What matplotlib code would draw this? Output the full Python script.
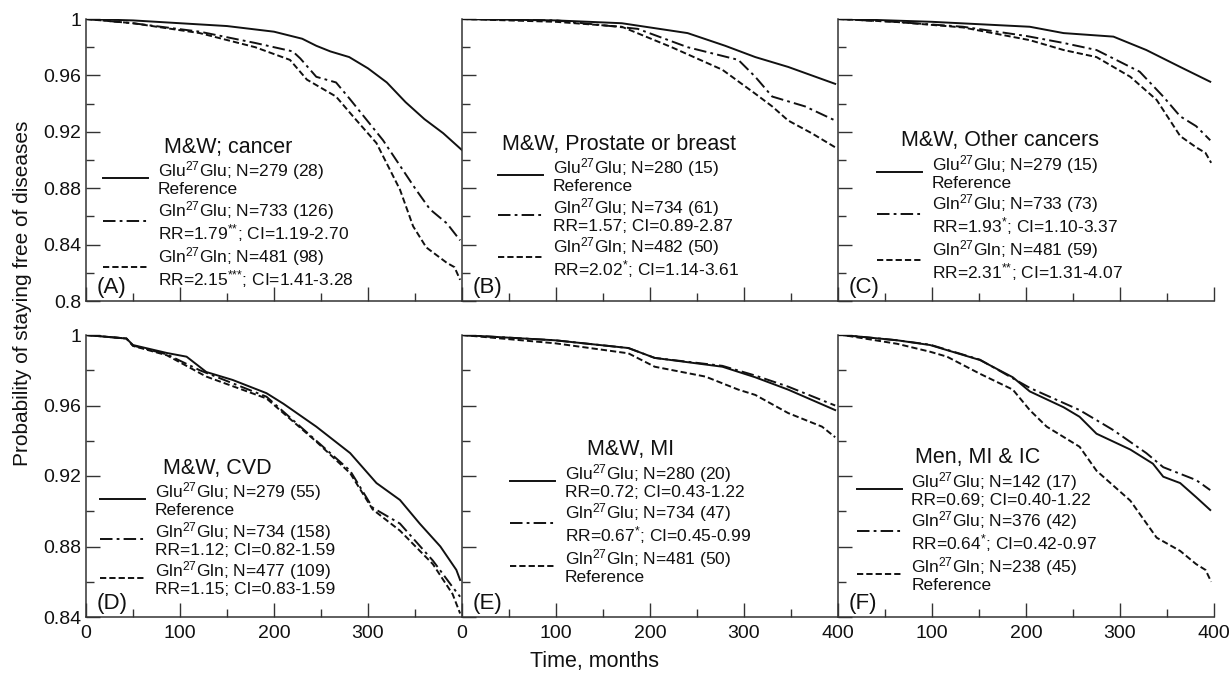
import matplotlib
matplotlib.use("Agg")
import matplotlib.pyplot as plt

plt.rcParams['font.family'] = ['Liberation Sans', 'DejaVu Sans']
plt.rcParams['mathtext.fontset'] = 'custom'
plt.rcParams['mathtext.rm'] = 'Liberation Sans'
plt.rcParams['mathtext.it'] = 'Liberation Sans'
plt.rcParams['mathtext.bf'] = 'Liberation Sans'
plt.rcParams['lines.scale_dashes'] = False

# ---- data (months, survival probability) ----
# panel A: M&W; cancer
A_glu_t = [0, 50, 100, 150, 200, 230, 245, 260, 280, 300, 320, 340, 360, 380, 400]
A_glu_s = [1.0, 0.999, 0.997, 0.995, 0.991, 0.986, 0.981, 0.977, 0.973, 0.965, 0.955, 0.941, 0.929, 0.919, 0.907]
A_gg_t = [0, 50, 121, 180, 220, 228, 245, 266, 281, 316, 351, 366, 384, 398]
A_gg_s = [1.0, 0.997, 0.991, 0.983, 0.977, 0.972, 0.959, 0.955, 0.943, 0.914, 0.879, 0.865, 0.855, 0.843]
A_gln_t = [0, 50, 121, 180, 217, 235, 266, 284, 309, 334, 348, 362, 384, 392, 398]
A_gln_s = [1.0, 0.997, 0.990, 0.980, 0.971, 0.957, 0.945, 0.931, 0.912, 0.879, 0.853, 0.838, 0.827, 0.824, 0.815]

# panel B: M&W, Prostate or breast
B_glu_t = [0, 100, 170, 240, 280, 312, 347, 397]
B_glu_s = [1.0, 0.999, 0.997, 0.990, 0.981, 0.973, 0.966, 0.954]
B_gg_t = [0, 100, 187, 240, 294, 312, 330, 365, 397]
B_gg_s = [1.0, 0.999, 0.993, 0.980, 0.971, 0.959, 0.945, 0.938, 0.928]
B_gln_t = [0, 100, 170, 223, 277, 312, 330, 347, 372, 397]
B_gln_s = [1.0, 0.998, 0.9945, 0.980, 0.964, 0.947, 0.938, 0.928, 0.919, 0.909]

# panel C: M&W, Other cancers
C_glu_t = [0, 10, 100, 204, 240, 293, 328, 364, 396]
C_glu_s = [1.0, 1.0, 0.998, 0.9945, 0.990, 0.9875, 0.978, 0.966, 0.9555]
C_gg_t = [0, 60, 133, 200, 240, 275, 321, 346, 364, 381, 396]
C_gg_s = [1.0, 0.998, 0.9945, 0.988, 0.983, 0.978, 0.9626, 0.945, 0.931, 0.924, 0.914]
C_gln_t = [0, 60, 133, 204, 240, 275, 311, 339, 364, 381, 391, 397]
C_gln_s = [1.0, 0.998, 0.994, 0.985, 0.978, 0.973, 0.959, 0.9426, 0.917, 0.909, 0.905, 0.898]

# panel D: M&W, CVD
D_glu_t = [0, 43, 50, 86, 107, 128, 156, 192, 210, 245, 281, 309, 334, 355, 377, 394, 398]
D_glu_s = [1.0, 0.998, 0.9943, 0.9898, 0.9877, 0.979, 0.9745, 0.967, 0.961, 0.948, 0.933, 0.916, 0.9064, 0.893, 0.880, 0.8667, 0.861]
D_gg_t = [0, 43, 50, 86, 121, 192, 245, 281, 305, 334, 369, 390, 398]
D_gg_s = [1.0, 0.998, 0.994, 0.989, 0.980, 0.965, 0.940, 0.923, 0.902, 0.893, 0.872, 0.857, 0.8515]
D_gln_t = [0, 43, 50, 86, 128, 192, 245, 281, 305, 334, 369, 390, 398]
D_gln_s = [1.0, 0.998, 0.9938, 0.9885, 0.9764, 0.964, 0.9395, 0.9216, 0.901, 0.889, 0.870, 0.853, 0.842]

# panel E: M&W, MI
E_glu_t = [0, 99, 177, 205, 277, 312, 347, 397]
E_glu_s = [1.0, 0.997, 0.9926, 0.987, 0.982, 0.976, 0.969, 0.9574]
E_gg_t = [0, 99, 177, 205, 277, 312, 347, 397]
E_gg_s = [1.0, 0.997, 0.9926, 0.987, 0.9825, 0.977, 0.9707, 0.960]
E_gln_t = [0, 99, 177, 205, 259, 294, 312, 347, 383, 397]
E_gln_s = [1.0, 0.9953, 0.9896, 0.982, 0.9764, 0.969, 0.966, 0.9557, 0.948, 0.942]

# panel F: Men, MI & IC
F_glu_t = [0, 5, 63, 98, 151, 186, 204, 240, 257, 275, 311, 335, 346, 364, 381, 396]
F_glu_s = [1.0, 1.0, 0.997, 0.9943, 0.9858, 0.976, 0.968, 0.959, 0.9536, 0.944, 0.935, 0.927, 0.9196, 0.916, 0.908, 0.9007]
F_gg_t = [0, 5, 63, 98, 151, 204, 257, 293, 328, 346, 381, 396]
F_gg_s = [1.0, 1.0, 0.997, 0.9945, 0.986, 0.970, 0.9574, 0.946, 0.933, 0.925, 0.9177, 0.912]
F_gln_t = [0, 5, 63, 98, 116, 151, 186, 204, 222, 257, 275, 311, 339, 364, 381, 391, 397]
F_gln_s = [1.0, 1.0, 0.995, 0.9905, 0.9877, 0.978, 0.969, 0.9574, 0.948, 0.9366, 0.923, 0.906, 0.885, 0.8775, 0.870, 0.8667, 0.860]

titles = ['M&W; cancer', 'M&W, Prostate or breast', 'M&W, Other cancers',
          'M&W, CVD', 'M&W, MI', 'Men, MI & IC']
panel_tags = ['(A)', '(B)', '(C)', '(D)', '(E)', '(F)']

GLU = 'Glu$^{27}$Glu'
GG = 'Gln$^{27}$Glu'
GLN = 'Gln$^{27}$Gln'
S1 = '$^{{*}}$'
S2 = '$^{{*}{*}}$'
S3 = '$^{{*}{*}{*}}$'
labels = [
    [GLU + '; N=279 (28)\nReference',
     GG + '; N=733 (126)\nRR=1.79' + S2 + '; CI=1.19-2.70',
     GLN + '; N=481 (98)\nRR=2.15' + S3 + '; CI=1.41-3.28'],
    [GLU + '; N=280 (15)\nReference',
     GG + '; N=734 (61)\nRR=1.57; CI=0.89-2.87',
     GLN + '; N=482 (50)\nRR=2.02' + S1 + '; CI=1.14-3.61'],
    [GLU + '; N=279 (15)\nReference',
     GG + '; N=733 (73)\nRR=1.93' + S1 + '; CI=1.10-3.37',
     GLN + '; N=481 (59)\nRR=2.31' + S2 + '; CI=1.31-4.07'],
    [GLU + '; N=279 (55)\nReference',
     GG + '; N=734 (158)\nRR=1.12; CI=0.82-1.59',
     GLN + '; N=477 (109)\nRR=1.15; CI=0.83-1.59'],
    [GLU + '; N=280 (20)\nRR=0.72; CI=0.43-1.22',
     GG + '; N=734 (47)\nRR=0.67' + S1 + '; CI=0.45-0.99',
     GLN + '; N=481 (50)\nReference'],
    [GLU + '; N=142 (17)\nRR=0.69; CI=0.40-1.22',
     GG + '; N=376 (42)\nRR=0.64' + S1 + '; CI=0.42-0.97',
     GLN + '; N=238 (45)\nReference'],
]

curves = [
    [(A_glu_t, A_glu_s), (A_gg_t, A_gg_s), (A_gln_t, A_gln_s)],
    [(B_glu_t, B_glu_s), (B_gg_t, B_gg_s), (B_gln_t, B_gln_s)],
    [(C_glu_t, C_glu_s), (C_gg_t, C_gg_s), (C_gln_t, C_gln_s)],
    [(D_glu_t, D_glu_s), (D_gg_t, D_gg_s), (D_gln_t, D_gln_s)],
    [(E_glu_t, E_glu_s), (E_gg_t, E_gg_s), (E_gln_t, E_gln_s)],
    [(F_glu_t, F_glu_s), (F_gg_t, F_gg_s), (F_gln_t, F_gln_s)],
]

legend_pos = [(0.045, 0.04), (0.096, 0.075), (0.104, 0.064),
              (0.037, 0.071), (0.128, 0.113), (0.05, 0.085)]

styles = ['-', (0, (9, 3, 2, 3)), (0, (4.5, 2.2))]
ink = '#111111'

fig, axes = plt.subplots(2, 3, figsize=(12.29, 6.8), dpi=100)
fig.subplots_adjust(left=86/1229, right=1214/1229, top=1-19/680, bottom=1-617/680,
                    wspace=0, hspace=34/282)

for i, ax in enumerate(axes.flat):
    row, col = divmod(i, 3)
    for (t, s), ls in zip(curves[i], styles):
        ax.plot(t, s, color=ink, lw=1.4, linestyle=ls)
    ax.set_xlim(0, 400)
    if row == 0:
        ax.set_ylim(0.8, 1.0)
        ax.set_yticks([0.8, 0.84, 0.88, 0.92, 0.96, 1.0])
        ax.set_yticks([0.82, 0.86, 0.90, 0.94, 0.98], minor=True)
    else:
        ax.set_ylim(0.84, 1.0)
        ax.set_yticks([0.84, 0.88, 0.92, 0.96, 1.0])
        ax.set_yticks([0.86, 0.90, 0.94, 0.98], minor=True)
    ax.set_xticks([0, 100, 200, 300, 400])
    ax.set_xticks([50, 150, 250, 350], minor=True)
    ax.spines['top'].set_visible(False)
    ax.spines['right'].set_visible(False)
    for sp in ['left', 'bottom']:
        ax.spines[sp].set_color('#333333')
        ax.spines[sp].set_linewidth(1.1)
    ax.tick_params(which='both', direction='in', color='#333333', labelsize=14,
                   labelcolor='#111111')
    ax.tick_params(which='major', length=10, width=1.0)
    ax.tick_params(which='minor', length=6, width=1.0)
    if col == 0:
        ax.set_yticklabels(['0.8' if abs(v - 0.8) < 1e-9 else ('1' if v == 1.0 else f'{v:.2f}')
                            for v in ax.get_yticks()])
    else:
        ax.set_yticklabels([])
    if row == 0:
        ax.set_xticklabels([])
    else:
        xl = ['0', '100', '200', '300', '400']
        if col == 0:
            xl[-1] = ''
        if col == 2:
            xl[0] = ''
        ax.set_xticklabels(xl)
        ax.tick_params(axis='x', pad=6)

    leg = ax.legend(labels[i], loc='lower left', bbox_to_anchor=legend_pos[i],
                    frameon=False, fontsize=12.5, title=titles[i],
                    title_fontsize=15.5, handlelength=2.6, handletextpad=0.55,
                    labelspacing=0.08, borderpad=0, borderaxespad=0)
    for txt in leg.get_texts():
        txt.set_color('#111111')
        txt.set_linespacing(1.0)
    leg.get_title().set_color('#111111')
    ax.text(0.028, 0.012, panel_tags[i], transform=ax.transAxes, fontsize=16,
            ha='left', va='bottom', color='#111111')

fig.text(0.018, 0.568, 'Probability of staying free of diseases', rotation=90,
         ha='center', va='center', fontsize=15, color='#111111')
fig.text(595/1229, 1-661/680, 'Time, months', ha='center', va='center',
         fontsize=15.5, color='#111111')

fig.savefig('out.png', dpi=100)
